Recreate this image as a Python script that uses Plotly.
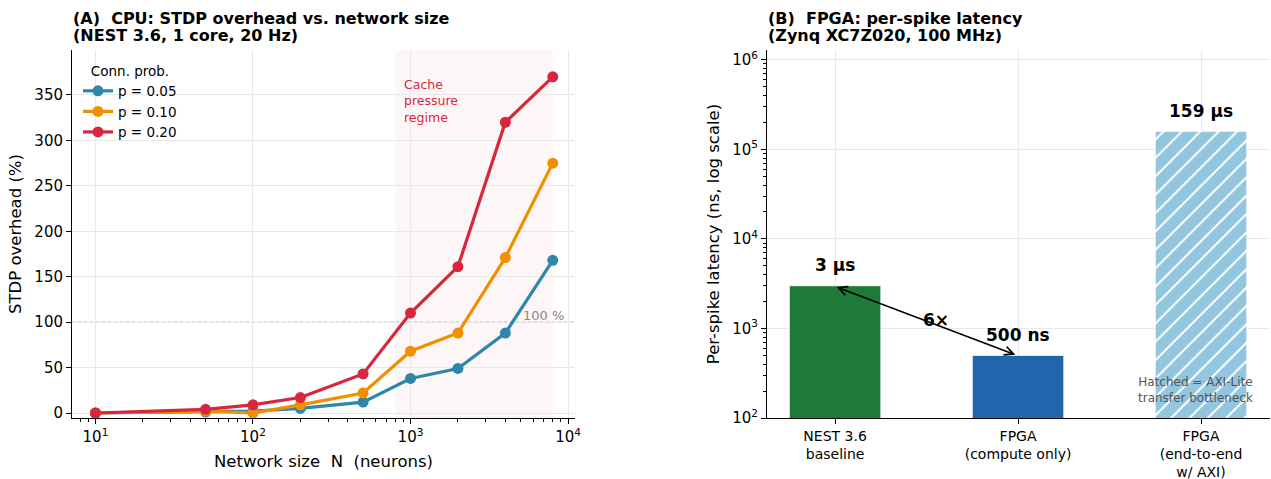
import plotly.graph_objects as go
import math

# ---- data ----
network_sizes = [10, 50, 100, 200, 500, 1000, 2000, 4000, 8000]
overhead_p005 = [0, 1, 2, 5, 12, 38, 49, 88, 168]
overhead_p010 = [0, 2, 0, 9, 22, 68, 88, 171, 275]
overhead_p020 = [0, 4, 9, 17, 43, 110, 161, 320, 370]
series_names = ["p = 0.05", "p = 0.10", "p = 0.20"]
series_colors = ["#2E86AB", "#F18F01", "#D7263D"]

bar_labels = ["NEST 3.6<br>baseline", "FPGA<br>(compute only)", "FPGA<br>(end-to-end<br>w/ AXI)"]
latency_ns = [3000, 500, 159000]
latency_text = ["3 µs", "500 ns", "159 µs"]
bar_colors = ["#1E7A38", "#2166AC", "#92C5DE"]
bar_hatch = ["", "", "/"]

cache_region = [800, 8000]

title_a = ["(A)  CPU: STDP overhead vs. network size", "(NEST 3.6, 1 core, 20 Hz)"]
title_b = ["(B)  FPGA: per-spike latency", "(Zynq XC7Z020, 100 MHz)"]

W, H = 1271, 479
FONT = "DejaVu Sans"

def px(xpix):
    return xpix / W

def py(ypix):
    return 1 - ypix / H

def minor_log(lo, hi):
    return [m * 10 ** e for e in range(lo, hi) for m in range(2, 10)]

fig = go.Figure()

for vals, name, col in zip([overhead_p005, overhead_p010, overhead_p020], series_names, series_colors):
    fig.add_trace(go.Scatter(
        x=network_sizes, y=vals, mode="lines+markers", name=name,
        line=dict(color=col, width=3.2),
        marker=dict(color=col, size=11),
        xaxis="x", yaxis="y",
    ))

# bars (one trace per bar so each can carry its own hatch)
xs = list(range(len(bar_labels)))
for i, (v, col, hatch) in enumerate(zip(latency_ns, bar_colors, bar_hatch)):
    marker = dict(color=col, line=dict(color="white", width=0.8))
    if hatch:
        marker["pattern"] = dict(shape=hatch, fgcolor="white", bgcolor=col, size=13,
                                 solidity=0.15, fillmode="overlay", fgopacity=1)
    fig.add_trace(go.Bar(x=[xs[i]], y=[v], width=0.5, xaxis="x2", yaxis="y2",
                         marker=marker, showlegend=False))

TICK = 15
axis_common = dict(
    showline=True, linecolor="black", linewidth=1,
    ticks="outside", ticklen=5, tickcolor="black", tickwidth=1,
    gridcolor="#e8e8e8", gridwidth=1, zeroline=False, automargin=False,
)

fig.update_layout(
    width=W, height=H,
    margin=dict(l=0, r=0, t=0, b=0),
    plot_bgcolor="white", paper_bgcolor="white",
    font=dict(family=FONT, size=14, color="black"),
    barmode="overlay",
    xaxis=dict(
        domain=[px(72), px(575)], type="log", range=[math.log10(7.1), math.log10(11070)],
        tickvals=[10, 100, 1000, 10000],
        ticktext=["10<sup>1</sup>", "10<sup>2</sup>", "10<sup>3</sup>", "10<sup>4</sup>"],
        tickfont=dict(family=FONT, size=TICK, color="black"),
        minor=dict(tickvals=minor_log(0, 5), ticks="outside", ticklen=3, tickcolor="black", showgrid=False),
        title=dict(text="Network size &nbsp;N &nbsp;(neurons)", font=dict(family=FONT, size=16.5), standoff=10),
        anchor="y", **axis_common,
    ),
    yaxis=dict(
        domain=[py(418), py(50)], range=[-5.5, 399.5],
        tickvals=[0, 50, 100, 150, 200, 250, 300, 350],
        tickfont=dict(family=FONT, size=TICK, color="black"),
        title=dict(text="STDP overhead (%)", font=dict(family=FONT, size=16.5), standoff=8),
        anchor="x", **axis_common,
    ),
    xaxis2=dict(
        domain=[px(767), px(1270)], range=[-0.372, 2.377],
        tickvals=xs, ticktext=bar_labels,
        tickfont=dict(family=FONT, size=14, color="black"),
        anchor="y2", **axis_common,
    ),
    yaxis2=dict(
        domain=[py(418), py(50)], type="log", range=[2, 6.11],
        tickvals=[100, 1000, 10000, 100000, 1000000],
        ticktext=["10<sup>2</sup>", "10<sup>3</sup>", "10<sup>4</sup>", "10<sup>5</sup>", "10<sup>6</sup>"],
        tickfont=dict(family=FONT, size=TICK, color="black"),
        minor=dict(tickvals=minor_log(2, 7), ticks="outside", ticklen=3, tickcolor="black", showgrid=False),
        title=dict(text="Per-spike latency (ns, log scale)", font=dict(family=FONT, size=16.5), standoff=8),
        anchor="x2", **axis_common,
    ),
    legend=dict(
        x=px(78), y=py(58), xanchor="left", yanchor="top",
        title=dict(text="Conn. prob.", font=dict(family=FONT, size=13.5), side="top center"),
        font=dict(family=FONT, size=13.5), bgcolor="rgba(255,255,255,0)",
        tracegroupgap=0, itemwidth=30,
    ),
)

# shaded region
fig.add_shape(type="rect", xref="x", yref="y domain", x0=cache_region[0], x1=cache_region[1], y0=0, y1=1,
              fillcolor="rgba(215,38,61,0.04)", line=dict(width=0), layer="below")
# 100% line
fig.add_shape(type="line", xref="x domain", yref="y", x0=0, x1=1, y0=100, y1=100,
              line=dict(color="#999999", width=1, dash="dot"), layer="below")

annotations = []
for title, x0 in ((title_a, 71), (title_b, 766)):
    for k, line in enumerate(title):
        annotations.append(dict(text=f"<b>{line}</b>", xref="paper", yref="paper", x=px(x0), y=py(18 + 18 * k),
                                xanchor="left", yanchor="middle", align="left", showarrow=False,
                                font=dict(family=FONT, size=16)))
annotations += [
    dict(text="Cache<br>pressure<br>regime", xref="x", yref="y", x=math.log10(880), y=372,
         xanchor="left", yanchor="top", align="left", showarrow=False,
         font=dict(family=FONT, size=12.5, color="#D7263D")),
    dict(text="100 %", xref="x", yref="y", x=math.log10(9700), y=100, xanchor="right", yanchor="bottom",
         yshift=-3, showarrow=False, font=dict(family=FONT, size=13, color="#888888")),
    dict(text="Hatched = AXI-Lite<br>transfer bottleneck", xref="paper", yref="paper", x=px(1195), y=py(390),
         xanchor="center", yanchor="middle", align="center", showarrow=False,
         font=dict(family=FONT, size=12, color="#555555")),
    dict(text="", xref="x2", yref="y2", x=0.985, y=math.log10(510), ax=0, ay=math.log10(2950),
         axref="x2", ayref="y2", showarrow=True, arrowhead=5, startarrowhead=5, arrowside="end+start",
         arrowwidth=1.6, arrowsize=1.1, startarrowsize=1.1, arrowcolor="black", standoff=0, startstandoff=0),
    dict(text="<b>6×</b>", xref="x2", yref="y2", x=0.55, y=math.log10(1250), showarrow=False,
         font=dict(family=FONT, size=17)),
]
for i, (v, t) in enumerate(zip(latency_ns, latency_text)):
    annotations.append(dict(text=f"<b>{t}</b>", xref="x2", yref="y2", x=i, y=math.log10(v * 1.25),
                            xanchor="center", yanchor="bottom", showarrow=False,
                            font=dict(family=FONT, size=17)))
fig.update_layout(annotations=annotations)

fig.write_html("out.html", config={"displayModeBar": False},
               post_script="document.body.style.margin='0';document.body.style.overflow='hidden';")
